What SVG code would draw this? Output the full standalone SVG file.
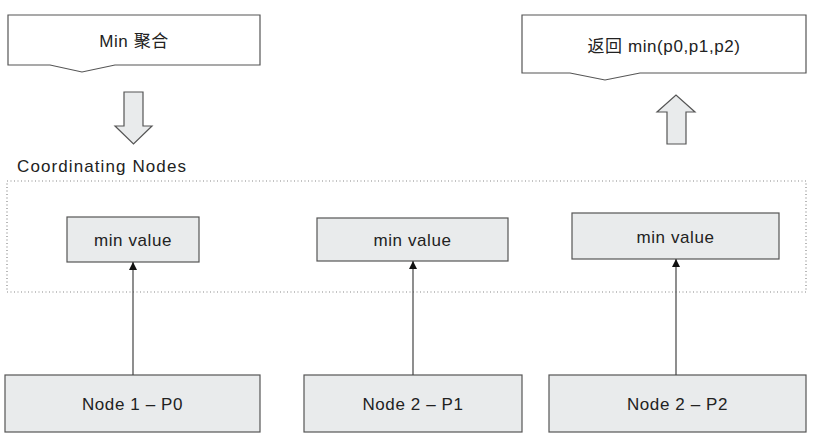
<svg xmlns="http://www.w3.org/2000/svg" width="822" height="438" viewBox="0 0 822 438">
<style>
text{font-family:"Liberation Sans","Noto Sans CJK SC",sans-serif;font-size:17px;fill:#222;letter-spacing:0.6px}
.box{fill:#e9ebec;stroke:#555;stroke-width:1.2}
.callout{fill:#fff;stroke:#555;stroke-width:1.2}
.blk{fill:#e9ebec;stroke:#555;stroke-width:1.2}
.edge{stroke:#444;stroke-width:1.2;fill:none;marker-end:url(#ah)}
.group{fill:none;stroke:#888;stroke-width:1.2;stroke-dasharray:1 2.5}
.lbl{letter-spacing:1.1px}
</style>
<defs>
<marker id="ah" viewBox="0 0 10 10" refX="10" refY="5" markerWidth="8" markerHeight="10" markerUnits="userSpaceOnUse" orient="auto">
<path d="M0,0 L10,5 L0,10 Z" fill="#111"/>
</marker>
</defs>
<rect width="822" height="438" fill="#fff"/>

<g id="callout-min">
<path class="callout" d="M8,15 H260 V65 H115 L82,72 L50,65 H8 Z"/>
<text x="134" y="47" text-anchor="middle">Min 聚合</text>
</g>
<g id="arrow-down">
<path class="blk" d="M124,92 H143 V126 H152 L133.5,144 L115,126 H124 Z"/>
</g>

<g id="callout-return">
<path class="callout" d="M522,15 H806 V73 H640 L605,80 L570,73 H522 Z"/>
<text x="664" y="52" text-anchor="middle">返回 min(p0,p1,p2)</text>
</g>
<g id="arrow-up">
<path class="blk" d="M667,144 V112 H657 L676,95 L695,112 H686 V144 Z"/>
</g>

<g id="coordinating-nodes">
<rect class="group" x="7" y="181" width="799" height="111"/>
<text class="lbl" x="17" y="172">Coordinating Nodes</text>
</g>

<g id="min1">
<rect class="box" x="67" y="217" width="132" height="45"/>
<text x="133" y="246" text-anchor="middle">min value</text>
</g>
<g id="min2">
<rect class="box" x="317" y="218" width="191" height="43"/>
<text x="412.5" y="246" text-anchor="middle">min value</text>
</g>
<g id="min3">
<rect class="box" x="572" y="213" width="207" height="46"/>
<text x="675.5" y="243" text-anchor="middle">min value</text>
</g>

<g id="node1">
<rect class="box" x="5" y="375" width="255" height="57"/>
<text x="132.5" y="410" text-anchor="middle">Node 1 – P0</text>
</g>
<g id="node2">
<rect class="box" x="304" y="375" width="218" height="57"/>
<text x="413" y="410" text-anchor="middle">Node 2 – P1</text>
</g>
<g id="node3">
<rect class="box" x="549" y="375" width="257" height="57"/>
<text x="677.5" y="410" text-anchor="middle">Node 2 – P2</text>
</g>

<g id="connectors">
<line class="edge" x1="133" y1="375" x2="133" y2="262"/>
<line class="edge" x1="413" y1="375" x2="413" y2="261"/>
<line class="edge" x1="676" y1="375" x2="676" y2="259"/>
</g>
</svg>
